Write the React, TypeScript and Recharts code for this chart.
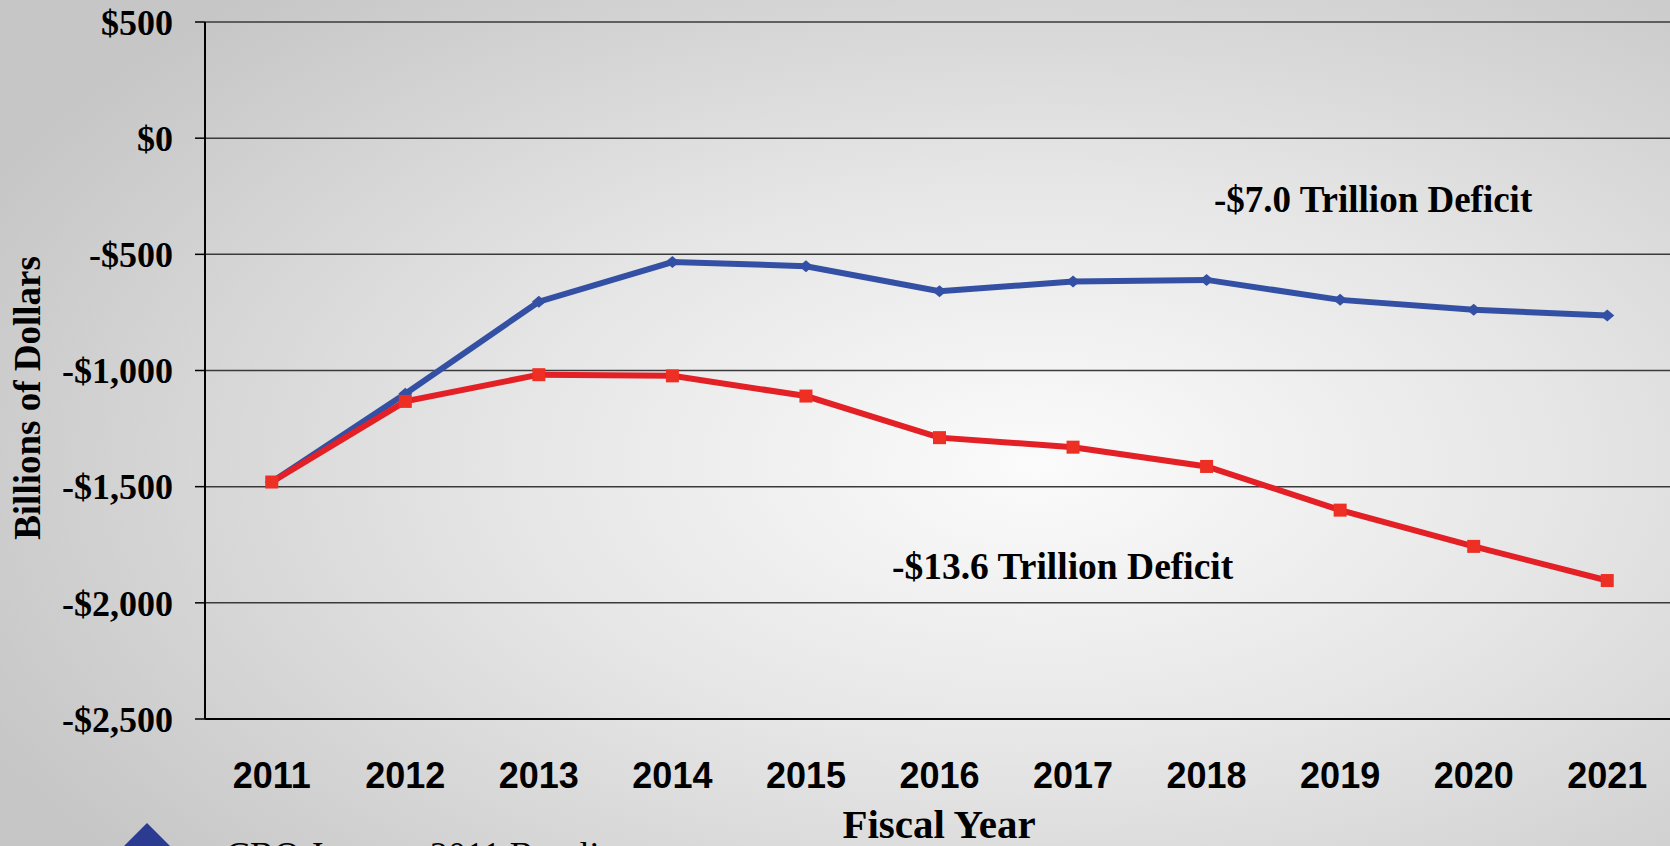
import { LineChart, Line, XAxis, YAxis, CartesianGrid, Label } from 'recharts';

const years = ['2011', '2012', '2013', '2014', '2015', '2016', '2017', '2018', '2019', '2020', '2021'];
const baseline = [-1480, -1100, -704, -533, -551, -659, -617, -610, -696, -739, -763];
const alternative = [-1480, -1133, -1018, -1023, -1110, -1289, -1330, -1413, -1601, -1757, -1904];
const yTicks = [-2500, -2000, -1500, -1000, -500, 0, 500];

const data = years.map((year, i) => ({ year, baseline: baseline[i], alternative: alternative[i] }));

const SERIF = '"Liberation Serif", "Times New Roman", serif';
const SANS = '"Liberation Sans", Arial, sans-serif';
const BLUE = '#3450A4';
const RED = '#E22025';

function fmtDollars(v: number) {
  const abs = Math.abs(v).toString().replace(/\B(?=(\d{3})+(?!\d))/g, ',');
  return v < 0 ? `-$${abs}` : `$${abs}`;
}

const Diamond = (props: any) => {
  const { cx, cy } = props;
  if (cx == null || cy == null) return null;
  return <polygon points={`${cx - 7},${cy} ${cx},${cy - 6} ${cx + 7},${cy} ${cx},${cy + 6}`} fill={BLUE} />;
};

const Square = (props: any) => {
  const { cx, cy } = props;
  if (cx == null || cy == null) return null;
  return <rect x={cx - 6.5} y={cy - 6.5} width={13} height={13} fill="#EE3024" />;
};

export default function App() {
  return (
    <div
      style={{
        position: 'absolute',
        left: 0,
        top: 0,
        width: 1670,
        height: 846,
        overflow: 'hidden',
        background: 'radial-gradient(ellipse 70% 75% at 62% 55%, #fbfbfb 0%, #e6e6e6 45%, #c6c6c6 100%)',
      }}
    >
      <LineChart width={1674} height={846} data={data} margin={{ top: 22, right: 0, bottom: 0, left: 0 }}>
        <CartesianGrid vertical={false} stroke="#3a3a3a" strokeWidth={1.5} />
        <XAxis
          dataKey="year"
          height={127}
          padding={{ left: 66.75, right: 66.75 }}
          axisLine={{ stroke: '#000', strokeWidth: 2 }}
          tickLine={false}
          tickSize={0}
          tickMargin={43}
          interval={0}
          tick={{ fontFamily: SANS, fontWeight: 700, fontSize: 36, fill: '#000' }}
        >
          <Label
            content={() => (
              <text x={939} y={838} textAnchor="middle" fontFamily={SERIF} fontWeight={700} fontSize={41} fill="#000">
                Fiscal Year
              </text>
            )}
          />
        </XAxis>
        <YAxis
          width={205}
          domain={[-2500, 500]}
          ticks={yTicks}
          interval={0}
          axisLine={{ stroke: '#000', strokeWidth: 2 }}
          tickLine={{ stroke: '#000', strokeWidth: 1.5 }}
          tickSize={10}
          tickMargin={22}
          tickFormatter={fmtDollars}
          tick={{ fontFamily: SERIF, fontWeight: 700, fontSize: 36, fill: '#000' }}
        >
          <Label
            content={() => (
              <text
                x={40}
                y={398}
                transform="rotate(-90 40 398)"
                textAnchor="middle"
                fontFamily={SERIF}
                fontWeight={700}
                fontSize={37}
                fill="#000"
              >
                Billions of Dollars
              </text>
            )}
          />
        </YAxis>
        <Line
          dataKey="baseline"
          stroke={BLUE}
          strokeWidth={6}
          dot={<Diamond />}
          activeDot={false}
          isAnimationActive={false}
        />
        <Line
          dataKey="alternative"
          stroke={RED}
          strokeWidth={6}
          dot={<Square />}
          activeDot={false}
          isAnimationActive={false}
        />
      </LineChart>
      <div
        style={{
          position: 'absolute',
          left: 1214,
          top: 180,
          fontFamily: SERIF,
          fontWeight: 700,
          fontSize: 37,
          lineHeight: '40px',
          whiteSpace: 'nowrap',
        }}
      >
        -$7.0 Trillion Deficit
      </div>
      <div
        style={{
          position: 'absolute',
          left: 892,
          top: 547,
          fontFamily: SERIF,
          fontWeight: 700,
          fontSize: 37.5,
          lineHeight: '40px',
          whiteSpace: 'nowrap',
        }}
      >
        -$13.6 Trillion Deficit
      </div>
      <svg style={{ position: 'absolute', left: 0, top: 0 }} width={1670} height={846}>
        <polygon points="147,823 175,851 147,879 119,851" fill="#2B3B92" />
        <text x={226} y={867} fontFamily={SERIF} fontSize={36} fill="#000">
          CBO January 2011 Baseline
        </text>
      </svg>
    </div>
  );
}
